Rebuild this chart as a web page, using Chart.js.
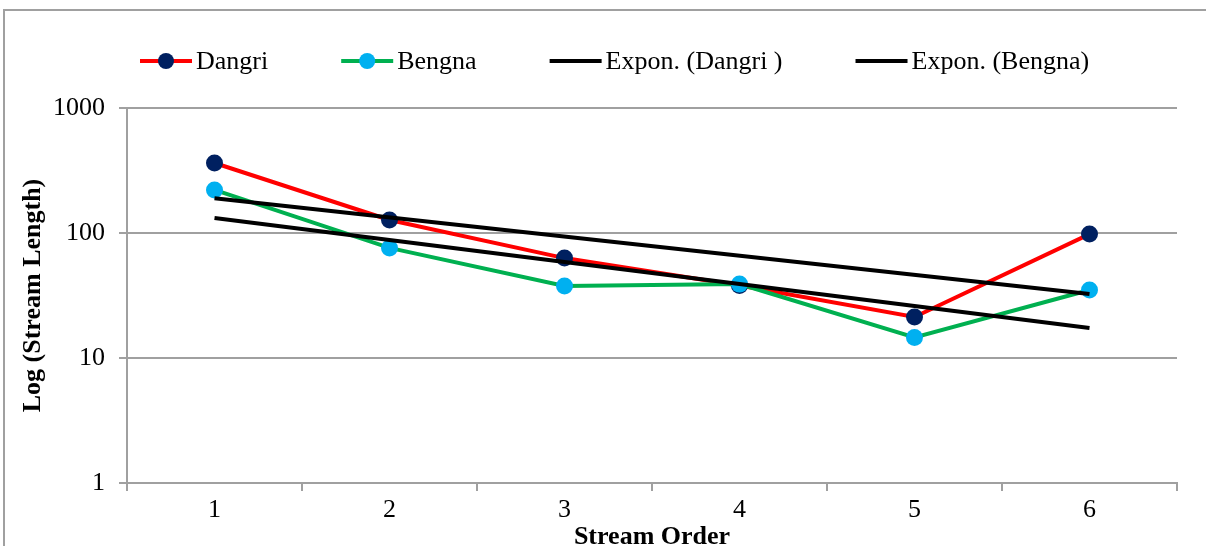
<!DOCTYPE html>
<html>
<head>
<meta charset="utf-8">
<script src="https://cdn.jsdelivr.net/npm/chart.js@4.4.1/dist/chart.umd.min.js"></script>
<style>
  html, body { margin: 0; padding: 0; background: #fff; }
  #wrap { position: relative; width: 1206px; height: 546px; }
</style>
</head>
<body>
<div id="wrap"><canvas id="streamChart"></canvas></div>
<script>
// Stream order vs stream length (log scale)

const streamOrders = ['1', '2', '3', '4', '5', '6'];
const dangriLength = [363, 127, 63, 38, 21.3, 98];
const bengnaLength = [221, 76, 37.7, 39, 14.6, 35];
// exponential trend lines, end points
const expDangri = [190, null, null, null, null, 32.5];
const expBengna = [132, null, null, null, null, 17.4];
const yTickValues = [1, 10, 100, 1000];

const FONT = "'Liberation Serif', 'Times New Roman', serif";
const GRID = '#a0a0a0';

const legendItems = [
  { text: 'Dangri', line: '#ff0000', dot: '#002060' },
  { text: 'Bengna', line: '#00b050', dot: '#00b0f0' },
  { text: 'Expon. (Dangri )', line: '#000000', dot: null },
  { text: 'Expon. (Bengna)', line: '#000000', dot: null }
];

const framePlugin = {
  id: 'frame',
  beforeDraw(chart) {
    const ctx = chart.ctx;
    ctx.save();
    ctx.strokeStyle = '#a0a0a0';
    ctx.lineWidth = 2;
    ctx.beginPath();
    ctx.moveTo(4, chart.height + 5);
    ctx.lineTo(4, 10);
    ctx.lineTo(chart.width + 5, 10);
    ctx.stroke();
    ctx.restore();
  }
};

const legendPlugin = {
  id: 'topLegend',
  afterDraw(chart) {
    const ctx = chart.ctx;
    const y = 61;
    let x = 140;
    ctx.save();
    ctx.font = '26px ' + FONT;
    ctx.textBaseline = 'middle';
    ctx.textAlign = 'left';
    legendItems.forEach(item => {
      ctx.strokeStyle = item.line;
      ctx.lineWidth = 4;
      ctx.beginPath();
      ctx.moveTo(x, y);
      ctx.lineTo(x + 52, y);
      ctx.stroke();
      if (item.dot) {
        ctx.fillStyle = item.dot;
        ctx.beginPath();
        ctx.arc(x + 26, y, 8, 0, Math.PI * 2);
        ctx.fill();
      }
      ctx.fillStyle = '#000';
      ctx.fillText(item.text, x + 56, y + 1);
      x += 56 + ctx.measureText(item.text).width + 73;
    });
    ctx.restore();
  }
};

const ctx = document.getElementById('streamChart').getContext('2d');
new Chart(ctx, {
  type: 'line',
  data: {
    labels: streamOrders,
    datasets: [
      {
        label: 'Dangri',
        data: dangriLength,
        borderColor: '#ff0000',
        borderWidth: 4,
        pointRadius: 8.5,
        pointBackgroundColor: '#002060',
        pointBorderColor: '#002060',
        pointBorderWidth: 0,
        tension: 0,
        order: 4
      },
      {
        label: 'Bengna',
        data: bengnaLength,
        borderColor: '#00b050',
        borderWidth: 4,
        pointRadius: 8.5,
        pointBackgroundColor: '#00b0f0',
        pointBorderColor: '#00b0f0',
        pointBorderWidth: 0,
        tension: 0,
        order: 3
      },
      {
        label: 'Expon. (Dangri )',
        data: expDangri,
        borderColor: '#000000',
        borderWidth: 4,
        pointRadius: 0,
        spanGaps: true,
        order: 2
      },
      {
        label: 'Expon. (Bengna)',
        data: expBengna,
        borderColor: '#000000',
        borderWidth: 4,
        pointRadius: 0,
        spanGaps: true,
        order: 1
      }
    ]
  },
  options: {
    responsive: true,
    maintainAspectRatio: false,
    animation: false,
    layout: {
      padding: { top: 108, right: 29, left: 0, bottom: 0 }
    },
    plugins: {
      legend: { display: false },
      tooltip: { enabled: false },
      title: { display: false }
    },
    scales: {
      x: {
        type: 'category',
        offset: true,
        afterFit(scale) { scale.height = 63; },
        grid: {
          display: true,
          offset: true,
          drawOnChartArea: false,
          drawTicks: true,
          tickLength: 8,
          color: GRID,
          lineWidth: 2
        },
        border: { display: true, color: GRID, width: 2 },
        ticks: {
          color: '#000',
          padding: 4,
          font: { family: FONT, size: 26 }
        },
        title: {
          display: true,
          text: 'Stream Order',
          color: '#000',
          padding: { top: 0, bottom: -4 },
          font: { family: FONT, size: 26, weight: 'bold', lineHeight: 1 }
        }
      },
      y: {
        type: 'logarithmic',
        min: 1,
        max: 1000,
        afterFit(scale) { scale.width = 127; },
        afterBuildTicks(scale) {
          scale.ticks = yTickValues.map(v => ({ value: v }));
        },
        grid: {
          color: GRID,
          lineWidth: 2,
          drawTicks: true,
          tickLength: 8
        },
        border: { display: true, color: GRID, width: 2 },
        ticks: {
          color: '#000',
          padding: 14,
          font: { family: FONT, size: 26 },
          callback: function(value) {
            return String(value);
          }
        },
        title: {
          display: true,
          text: 'Log (Stream Length)',
          color: '#000',
          padding: { top: 18, bottom: 0 },
          font: { family: FONT, size: 26, weight: 'bold', lineHeight: 1.2 }
        }
      }
    }
  },
  plugins: [framePlugin, legendPlugin]
});
</script>
</body>
</html>
